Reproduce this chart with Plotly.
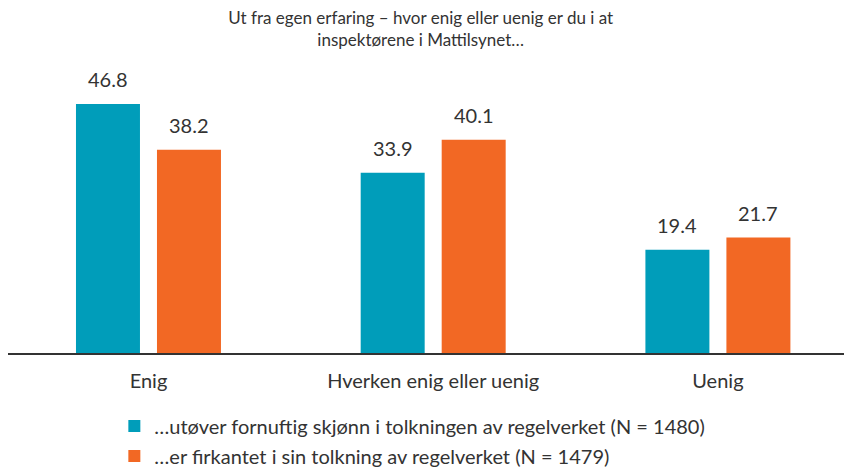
import plotly.graph_objects as go

categories = ["Enig", "Hverken enig eller uenig", "Uenig"]
series_names = [
    "…utøver fornuftig skjønn i tolkningen av regelverket (N = 1480)",
    "…er firkantet i sin tolkning av regelverket (N = 1479)",
]
values_skjonn = [46.8, 33.9, 19.4]
values_firkantet = [38.2, 40.1, 21.7]
colors = ["#009DBA", "#F26824"]
title_text = "Ut fra egen erfaring – hvor enig eller uenig er du i at<br>inspektørene i Mattilsynet…"

FONT = "Lato, Open Sans, sans-serif"
TXT = "#333333"

fig = go.Figure()
for i, (name, vals) in enumerate([(series_names[0], values_skjonn), (series_names[1], values_firkantet)]):
    fig.add_trace(go.Bar(
        x=categories, y=vals, name=name,
        marker=dict(color=colors[i], line=dict(width=0)),
        legendgroup=f"g{i}",
    ))

for i, vals in enumerate([values_skjonn, values_firkantet]):
    for c, v in zip(categories, vals):
        fig.add_annotation(
            x=c, y=v, text=f"{v:.1f}", showarrow=False,
            xshift=(-40.5 if i == 0 else 40.5), yshift=11, yanchor="bottom",
            font=dict(family=FONT, size=20, color=TXT),
        )

fig.update_layout(
    width=844, height=460,
    margin=dict(l=0, r=0, t=62, b=115, autoexpand=False),
    paper_bgcolor="white", plot_bgcolor="white",
    font=dict(family=FONT, size=20, color=TXT),
    title=dict(text=title_text, x=0.489, xanchor="center", xref="container",
               y=1 - 16 / 460, yanchor="top", yref="container",
               font=dict(family=FONT, size=17, color=TXT)),
    barmode="group", bargap=0.431, bargroupgap=0.21,
    xaxis=dict(range=[-0.4934, 2.471], showline=True, linecolor="#333333", linewidth=1.5,
               ticks="", showgrid=False, automargin=False, ticklabelstandoff=9,
               tickfont=dict(size=20, color=TXT, family=FONT)),
    yaxis=dict(range=[0, 53.2], visible=False, showgrid=False, zeroline=False, automargin=False),
    legend=dict(x=0.126, xanchor="left", y=-0.189, yanchor="top",
                orientation="v", tracegroupgap=1, font=dict(size=20, color=TXT, family=FONT),
                bgcolor="rgba(0,0,0,0)"),
    showlegend=True,
)

fig.write_html("out.html")
